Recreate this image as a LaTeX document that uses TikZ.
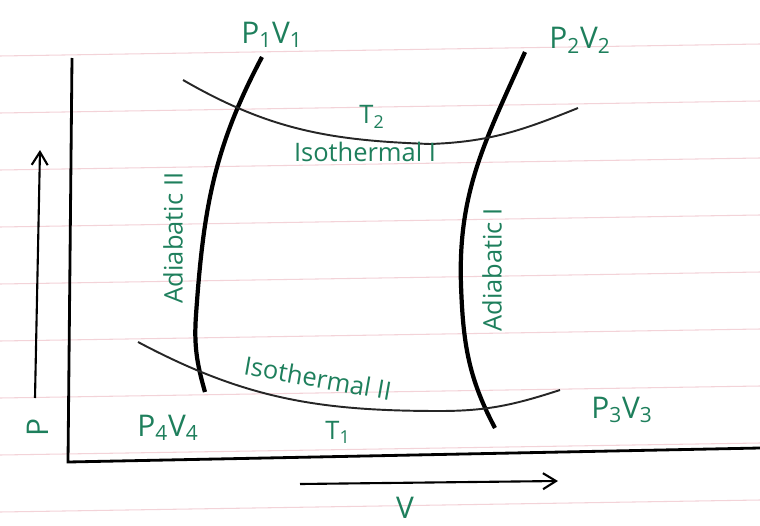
\documentclass[tikz,border=0pt]{standalone}
\usepackage{fontspec}
\setmainfont{Open Sans}
\usetikzlibrary{arrows.meta, positioning}
\definecolor{ink}{HTML}{1E7F5C}
\definecolor{paperrule}{HTML}{F3D3D8}
\tikzset{
  % riga del quaderno
  paperline/.style={draw=paperrule, line width=0.6pt},
  % assi del diagramma
  axis/.style={line width=1.6pt, black},
  % freccia che indica il verso di P e V
  dirarrow/.style={-{Straight Barb[length=2.6mm, width=3.2mm]}, line width=1.2pt},
  % trasformazioni
  adiab/.style={line width=2.4pt, black},
  isoth/.style={line width=1.1pt, black!85},
  % etichette
  lbl/.style={text=ink, font=\fontsize{17}{17}\selectfont, inner sep=1pt},
  curvelbl/.style={text=ink, font=\fontsize{14.5}{14.5}\selectfont, inner sep=1pt},
}

\begin{document}
\begin{tikzpicture}[x=0.02cm, y=0.02cm]
  \useasboundingbox (0,0) rectangle (760,525);
  \foreach \k in {0,...,8} \draw[paperline] (0,{469-57*\k}) -- (760,{481-57*\k});

  % assi
  \coordinate (ytop) at (72,467);
  \coordinate (orig) at (68,63);
  \coordinate (xend) at (760,77);
  \draw[axis] (ytop) -- (orig) -- (xend);

  % versi di P e V
  \coordinate (pfoot) at (35,127);
  \coordinate (phead) at (40,375);
  \draw[dirarrow] (pfoot) -- (phead);
  \node[lbl, rotate=90] (plbl) at (38,97) {P};
  \coordinate (vfoot) at (300,41);
  \coordinate (vhead) at (558,44);
  \draw[dirarrow] (vfoot) -- (vhead);
  \node[lbl] (vlbl) at (405,17) {V};

  % adiabatiche
  \coordinate (a2top) at (262,468);
  \coordinate (a2mid) at (196,210);
  \coordinate (a2bot) at (205,133);
  \draw[adiab] (a2top) to[out=242, in=86] (a2mid) to[out=-94, in=106] (a2bot);
  \coordinate (a1top) at (525,473);
  \coordinate (a1mid) at (461,240);
  \coordinate (a1bot) at (495,97);
  \draw[adiab] (a1top) to[out=246, in=92] (a1mid) to[out=-88, in=118] (a1bot);

  % isoterme
  \coordinate (i1start) at (183,445);
  \coordinate (i1low) at (430,381);
  \coordinate (i1end) at (578,417);
  \draw[isoth] (i1start) to[out=-30, in=178] (i1low) to[out=2, in=202] (i1end);
  \coordinate (i2start) at (138,183);
  \coordinate (i2low) at (440,114);
  \coordinate (i2end) at (560,135);
  \draw[isoth] (i2start) to[out=-28, in=180] (i2low) to[out=0, in=198] (i2end);

  % stati
  \node[lbl] (s1) at (272,490) {P\textsubscript{1}V\textsubscript{1}};
  \node[lbl] (s2) at (580,485) {P\textsubscript{2}V\textsubscript{2}};
  \node[lbl] (s3) at (622,115) {P\textsubscript{3}V\textsubscript{3}};
  \node[lbl] (s4) at (168,97) {P\textsubscript{4}V\textsubscript{4}};

  % nomi delle trasformazioni
  \node[curvelbl] (t2) at (372,408) {T\textsubscript{2}};
  \node[curvelbl] (iso1) at (365,373) {Isothermal I};
  \node[curvelbl, rotate=90] (ad2) at (173,287) {Adiabatic II};
  \node[curvelbl, rotate=90] (ad1) at (492,255) {Adiabatic I};
  \node[curvelbl, rotate=-10] (iso2) at (318,147) {Isothermal II};
  \node[curvelbl] (t1) at (338,93) {T\textsubscript{1}};
\end{tikzpicture}
\end{document}
